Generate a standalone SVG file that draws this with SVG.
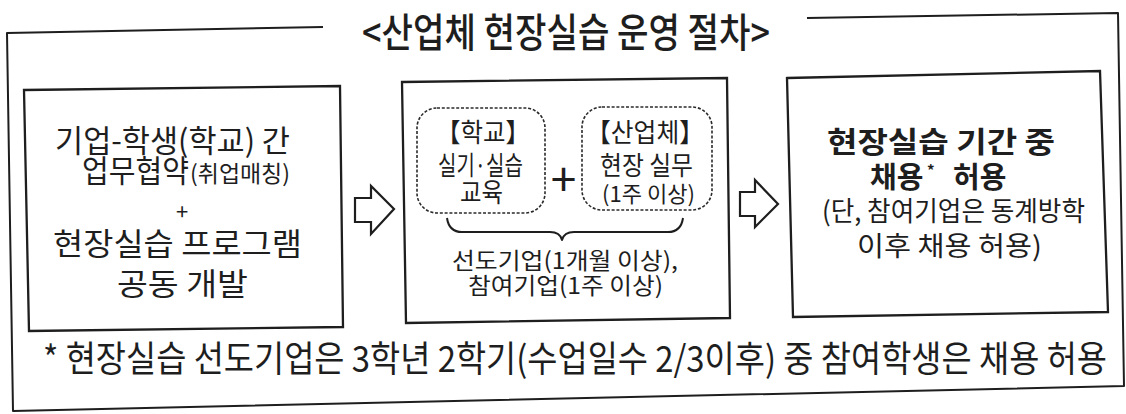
<svg xmlns="http://www.w3.org/2000/svg" width="1126" height="414" viewBox="0 0 1126 414">
<defs>
<style>
.ln{fill:none;stroke:#1e1e1e;stroke-width:2;stroke-linejoin:round}
.box{fill:#fff;stroke:#1e1e1e;stroke-width:2.3;stroke-linejoin:miter}
.dash{fill:none;stroke:#2a2a2a;stroke-width:1.6;stroke-dasharray:3 1.8}
.t{font-family:"Noto Sans CJK KR","Noto Sans",sans-serif;fill:#1e1e1e}
.b{font-weight:bold}
.m{font-weight:500}
.arrow{fill:#fff;stroke:#1e1e1e;stroke-width:2.2;stroke-linejoin:miter}
</style>
</defs>
<rect width="1126" height="414" fill="#fff"/>
<g id="frame">
<path class="ln" d="M323,27 L7,33 L13,411 L1124,386 L1118,13 L807,18"/>
</g>
<g id="title">
<text class="t m" x="362" y="47" font-size="40" textLength="408" lengthAdjust="spacingAndGlyphs">&lt;산업체 현장실습 운영 절차&gt;</text>
</g>
<g id="node-agreement">
<polygon class="box" points="24,90 340,86 343,327 29,331"/>
<text class="t" x="55" y="152" font-size="31" textLength="235" lengthAdjust="spacingAndGlyphs">기업-학생(학교) 간</text>
<text class="t" x="82" y="182" font-size="31" textLength="107" lengthAdjust="spacingAndGlyphs">업무협약</text>
<text class="t" x="190" y="182" font-size="23" textLength="100" lengthAdjust="spacingAndGlyphs">(취업매칭)</text>
<text class="t" x="182" y="220" font-size="22" text-anchor="middle">+</text>
<text class="t" x="53" y="255" font-size="31" textLength="249" lengthAdjust="spacingAndGlyphs">현장실습 프로그램</text>
<text class="t" x="117" y="295" font-size="31" textLength="131" lengthAdjust="spacingAndGlyphs">공동 개발</text>
</g>
<g id="node-training">
<polygon class="box" points="402,82 727,78 730,318 406,323"/>
<g id="node-school">
<rect class="dash" x="417" y="108" width="128" height="105" rx="20"/>
<text class="t" x="436" y="142" font-size="26" textLength="94" lengthAdjust="spacingAndGlyphs">【학교】</text>
<text class="t" x="438" y="175" font-size="26" textLength="85" lengthAdjust="spacingAndGlyphs">실기·실습</text>
<text class="t" x="460" y="202" font-size="26" textLength="43" lengthAdjust="spacingAndGlyphs">교육</text>
</g>
<text class="t" x="563.5" y="196" font-size="46" text-anchor="middle">+</text>
<g id="node-industry">
<rect class="dash" x="582" y="107" width="130" height="103" rx="20"/>
<text class="t" x="586" y="142" font-size="26" textLength="118" lengthAdjust="spacingAndGlyphs">【산업체】</text>
<text class="t" x="600" y="175" font-size="26" textLength="93" lengthAdjust="spacingAndGlyphs">현장 실무</text>
<text class="t" x="602" y="202" font-size="22" textLength="93" lengthAdjust="spacingAndGlyphs">(1주 이상)</text>
</g>
<path class="ln" d="M447,218 Q449,232 462,232 L550,232 Q560,232 562,240 Q564,232 574,232 L668,232 Q681,232 683,218" stroke-width="2.2"/>
<text class="t" x="452" y="269" font-size="23" textLength="226" lengthAdjust="spacingAndGlyphs">선도기업(1개월 이상),</text>
<text class="t" x="468" y="294" font-size="23" textLength="195" lengthAdjust="spacingAndGlyphs">참여기업(1주 이상)</text>
</g>
<g id="node-hiring">
<polygon class="box" points="787,78 1100,71 1108,312 793,317"/>
<text class="t b" x="827" y="153" font-size="29" textLength="228" lengthAdjust="spacingAndGlyphs">현장실습 기간 중</text>
<text class="t b" y="188" font-size="29"><tspan x="870">채용</tspan><tspan x="927" y="176" font-size="15">*</tspan><tspan x="953" y="188">허용</tspan></text>
<text class="t" x="822" y="221" font-size="27" textLength="263" lengthAdjust="spacingAndGlyphs">(단, 참여기업은 동계방학</text>
<text class="t" x="857" y="256" font-size="27" textLength="185" lengthAdjust="spacingAndGlyphs">이후 채용 허용)</text>
</g>
<g id="connectors">
<polygon class="arrow" points="355,198 371,198 371,186 394,209 371,234 371,222 355,222"/>
<polygon class="arrow" points="740,192 755,192 755,180 778,204 755,227 755,216 740,216"/>
</g>
<g id="footnote">
<text class="t" transform="translate(43,372) scale(0.8,1)" x="0" y="0" font-size="36" textLength="1330" lengthAdjust="spacingAndGlyphs">* 현장실습 선도기업은 3학년 2학기(수업일수 2/3이후) 중 참여학생은 채용 허용</text>
</g>
</svg>
